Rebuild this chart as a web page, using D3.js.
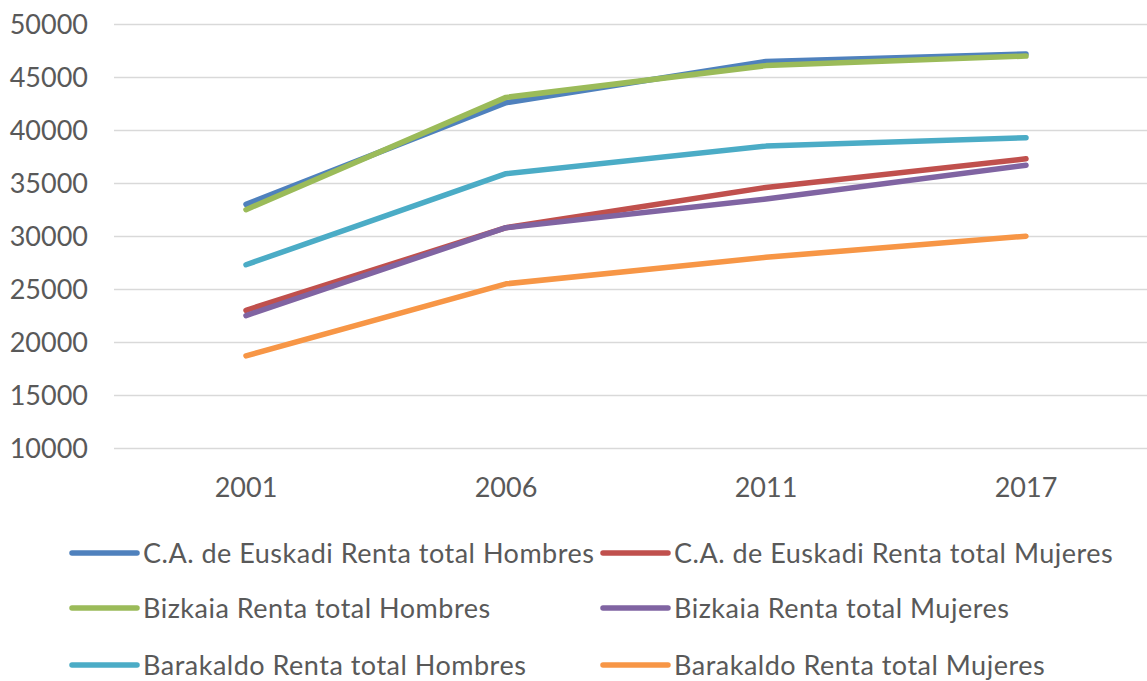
<!DOCTYPE html>
<html lang="es">
<head>
  <meta charset="utf-8">
  <script src="https://d3js.org/d3.v7.min.js"></script>
  <style>
    body { margin: 0; background: #fff; }
    svg { display: block; }
    .tick-label, .legend-label {
      font-family: Lato, "Open Sans", sans-serif;
      fill: #595959;
    }
  </style>
</head>
<body>
<script>
  var years = ["2001", "2006", "2011", "2017"];

  var seriesNames = [
    "C.A. de Euskadi Renta total Hombres",
    "C.A. de Euskadi Renta total Mujeres",
    "Bizkaia Renta total Hombres",
    "Bizkaia Renta total Mujeres",
    "Barakaldo Renta total Hombres",
    "Barakaldo Renta total Mujeres"
  ];

  var euskadiHombres   = [33000, 42600, 46500, 47200];
  var euskadiMujeres   = [23000, 30800, 34600, 37300];
  var bizkaiaHombres   = [32500, 43100, 46100, 47000];
  var bizkaiaMujeres   = [22500, 30800, 33500, 36700];
  var barakaldoHombres = [27300, 35900, 38500, 39300];
  var barakaldoMujeres = [18700, 25500, 28000, 30000];

  var yTicks = [10000, 15000, 20000, 25000, 30000, 35000, 40000, 45000, 50000];

  var colors = ["#4F81BD", "#C0504D", "#9BBB59", "#8064A2", "#4BACC6", "#F79646"];

  var seriesValues = [euskadiHombres, euskadiMujeres, bizkaiaHombres,
                      bizkaiaMujeres, barakaldoHombres, barakaldoMujeres];

  var series = seriesNames.map(function (name, i) {
    return { name: name, color: colors[i], values: seriesValues[i] };
  });

  var w = 1147, h = 681;
  var svg = d3.select("body").append("svg")
    .attr("width", w)
    .attr("height", h);

  var plotLeft = 114, plotRight = 1147;

  var x = d3.scalePoint()
    .domain(years)
    .range([246, 1026]);

  var y = d3.scaleLinear()
    .domain([10000, 50000])
    .range([448, 24.3]);

  // gridlines
  svg.append("g")
    .selectAll("line")
    .data(yTicks)
    .enter()
    .append("line")
    .attr("x1", plotLeft)
    .attr("x2", plotRight)
    .attr("y1", function (d) { return Math.round(y(d)) + 0.5; })
    .attr("y2", function (d) { return Math.round(y(d)) + 0.5; })
    .attr("stroke", "#d9d9d9")
    .attr("stroke-width", 1.5);

  // y labels
  svg.append("g")
    .selectAll("text")
    .data(yTicks)
    .enter()
    .append("text")
    .attr("class", "tick-label")
    .attr("x", 88)
    .attr("y", function (d) { return y(d); })
    .attr("dy", "0.36em")
    .attr("text-anchor", "end")
    .style("font-size", "27px")
    .text(function (d) { return d; });

  // x labels
  svg.append("g")
    .selectAll("text")
    .data(years)
    .enter()
    .append("text")
    .attr("class", "tick-label")
    .attr("x", function (d) { return x(d); })
    .attr("y", 497)
    .attr("text-anchor", "middle")
    .style("font-size", "27px")
    .text(function (d) { return d; });

  var line = d3.line()
    .x(function (d, i) { return x(years[i]); })
    .y(function (d) { return y(d); });

  svg.append("g")
    .selectAll("path")
    .data(series)
    .enter()
    .append("path")
    .attr("d", function (d) { return line(d.values); })
    .attr("fill", "none")
    .attr("stroke", function (d) { return d.color; })
    .attr("stroke-width", 5.5)
    .attr("stroke-linecap", "round")
    .attr("stroke-linejoin", "round");

  // legend, two columns x three rows
  var legendCols = [72, 603];
  var legendRows = [553, 608, 665];

  var legend = svg.append("g")
    .selectAll("g")
    .data(series)
    .enter()
    .append("g")
    .attr("transform", function (d, i) {
      return "translate(" + legendCols[i % 2] + "," + legendRows[Math.floor(i / 2)] + ")";
    });

  legend.append("line")
    .attr("x1", 0)
    .attr("x2", 65)
    .attr("stroke", function (d) { return d.color; })
    .attr("stroke-width", 5.5)
    .attr("stroke-linecap", "round");

  legend.append("text")
    .attr("class", "legend-label")
    .attr("x", 71)
    .attr("dy", "0.36em")
    .style("font-size", "27px")
    .style("letter-spacing", "0.5px")
    .text(function (d) { return d.name; });
</script>
</body>
</html>
